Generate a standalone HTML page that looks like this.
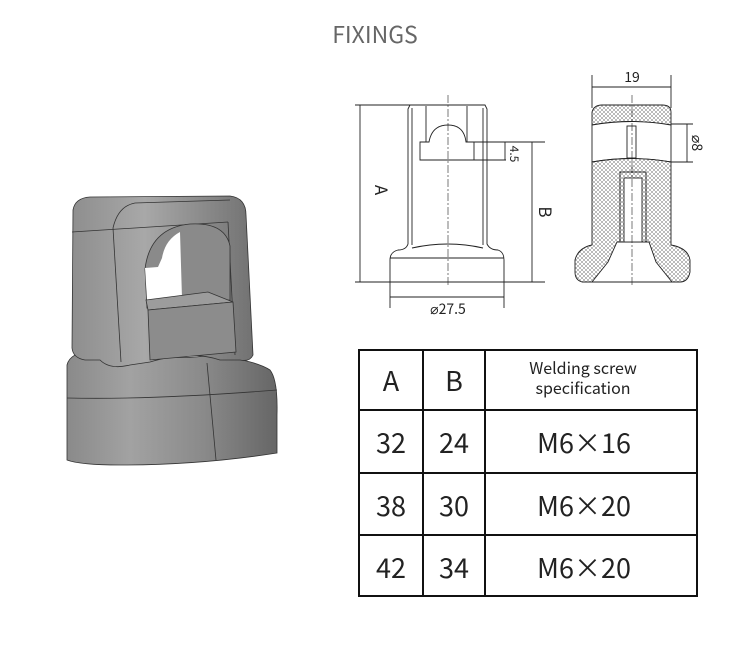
<!DOCTYPE html>
<html><head><meta charset="utf-8"><style>
html,body{margin:0;padding:0;background:#fff}
svg{display:block}
text{font-family:"Noto Sans CJK SC","Liberation Sans",sans-serif}
</style></head><body>
<svg width="750" height="663" viewBox="0 0 750 663" xmlns="http://www.w3.org/2000/svg">
<defs>
<pattern id="h" width="4" height="4" patternUnits="userSpaceOnUse">
<rect width="4" height="4" fill="#fff"/>
<path d="M0 0L4 4M4 0L0 4" stroke="#777" stroke-width="0.5"/>
</pattern>
<linearGradient id="g1" x1="0" x2="1"><stop offset="0" stop-color="#8e8e8e"/><stop offset="0.4" stop-color="#a8a8a8"/><stop offset="1" stop-color="#727272"/></linearGradient>
<linearGradient id="g2" x1="0" x2="1"><stop offset="0" stop-color="#8a8a8a"/><stop offset="0.3" stop-color="#a2a2a2"/><stop offset="0.65" stop-color="#8a8a8a"/><stop offset="1" stop-color="#666"/></linearGradient>
</defs>
<text x="375" y="43" text-anchor="middle" font-size="23" fill="#666">FIXINGS</text>

<!-- 3D object -->
<g stroke="#333" stroke-width="0.8">
<path d="M67 365 Q70 352 95 350 Q120 362 150 355 Q185 360 210 355 Q255 360 270 370 Q278 380 277 415 L277 453 Q200 465 120 465 Q80 465 67 460 Z" fill="url(#g2)"/>
<path d="M67 398 Q150 400 277 390" fill="none"/>
<line x1="207" y1="363" x2="216" y2="460"/>
<path d="M73 210 Q75 198 90 197 L230 196 Q246 198 246 215 L253 355 Q250 362 240 360 L220 360 Q190 350 150 362 L130 365 Q110 370 100 360 L85 360 Q73 358 72 348 Z" fill="url(#g1)"/>
<path d="M113 228 Q118 206 135 203 L230 200" fill="none"/>
<path d="M72 232 L228 222" fill="none"/>
<line x1="113" y1="228" x2="121" y2="362"/>
<line x1="228" y1="222" x2="235" y2="355"/>
<path d="M145 269 Q150 228 190 224 Q225 222 230 246 L230 300 L147 308 Z" fill="#8a8a8a"/>
<path d="M145 268 L158 267 L162 258 Q165 240 180 232 L182 298 L147 300 Z" fill="#fff" stroke="none"/>
<path d="M146 300 L208 292 L233 302 L148 310 Z" fill="#9c9c9c"/>
<path d="M148 310 L233 302 L236 352 L150 360 Z" fill="#8c8c8c"/>
</g>

<!-- Left drawing -->
<g stroke="#222" stroke-width="0.9" fill="none">
<line x1="355" y1="105" x2="412" y2="105"/>
<line x1="355" y1="282" x2="545" y2="282"/>
<line x1="360" y1="105" x2="360" y2="282"/>
<path d="M408 109 L410 105 L485 105 L487 109 L487 244 Q490 250 498 250 Q504 252 504 260 L504 282 L390 282 L390 260 Q390 252 398 250 Q406 250 408 244 Z" fill="#fff"/>
<line x1="412" y1="108" x2="412" y2="245"/>
<line x1="483" y1="108" x2="483" y2="245"/>
<line x1="426" y1="106" x2="426" y2="142"/>
<line x1="467" y1="106" x2="467" y2="142"/>
<line x1="390" y1="258" x2="504" y2="258"/>
<path d="M412 248 Q448 240 483 248"/>
<path d="M420 142 L420 160 L474 160 L474 142 L466 142 Q464 125 448 125 Q432 125 429 142 Z" fill="#fff"/>
<line x1="474" y1="142" x2="545" y2="142"/>
<line x1="474" y1="160" x2="506" y2="160"/>
<line x1="505" y1="142" x2="505" y2="160"/>
<line x1="532" y1="142" x2="532" y2="282"/>
<line x1="448" y1="95" x2="448" y2="285" stroke-dasharray="8,2,2,2" stroke-width="0.6"/>
<line x1="390" y1="282" x2="390" y2="308"/>
<line x1="504" y1="282" x2="504" y2="308"/>
<line x1="390" y1="297" x2="504" y2="297"/>
</g>
<text transform="translate(375,190) rotate(90)" text-anchor="middle" font-size="17" fill="#222">A</text>
<text transform="translate(539,212) rotate(90)" text-anchor="middle" font-size="17" fill="#222">B</text>
<text transform="translate(510,154) rotate(90)" text-anchor="middle" font-size="12" fill="#222">4.5</text>
<text x="448" y="314" text-anchor="middle" font-size="14" fill="#222">⌀27.5</text>

<!-- Right drawing -->
<g stroke="#222" stroke-width="0.9">
<line x1="592" y1="75" x2="592" y2="108" fill="none"/>
<line x1="671" y1="75" x2="671" y2="108" fill="none"/>
<line x1="592" y1="87" x2="671" y2="87"/>
<path d="M592 125 L592 112 Q594 105 602 105 L662 105 Q671 105 671 112 L671 125 Q632 118 592 125 Z" fill="url(#h)"/>
<path d="M592 125 Q632 118 671 125 L671 162 Q632 155 592 162 Z" fill="#fff"/>
<rect x="627" y="126" width="9" height="32" fill="#fff"/>
<path d="M592 162 Q632 155 671 162 L671 245 Q688 248 690 260 L690 272 Q688 282 680 282 L592 282 L582 282 Q575 280 575 272 L575 260 Q578 248 592 245 Z" fill="url(#h)"/>
<path d="M617 242 L649 242 L656 262 Q664 272 672 282 L592 282 Q600 272 608 262 Z" fill="#fff"/>
<rect x="620" y="172" width="26" height="70" fill="url(#h)"/>
<rect x="624" y="178" width="18" height="64" fill="#fff"/>
<line x1="671" y1="124" x2="693" y2="124"/>
<line x1="671" y1="162" x2="693" y2="162"/>
<line x1="687" y1="124" x2="687" y2="162"/>
<line x1="632" y1="95" x2="632" y2="285" stroke-dasharray="8,2,2,2" stroke-width="0.6"/>
</g>
<text x="632" y="82" text-anchor="middle" font-size="14" fill="#222">19</text>
<text transform="translate(692,143) rotate(90)" text-anchor="middle" font-size="14" fill="#222">⌀8</text>

<!-- Table -->
<g stroke="#111" stroke-width="2" fill="none">
<rect x="359" y="350" width="338" height="246"/>
<line x1="423" y1="350" x2="423" y2="596"/>
<line x1="485" y1="350" x2="485" y2="596"/>
<line x1="359" y1="410" x2="697" y2="410"/>
<line x1="359" y1="473" x2="697" y2="473"/>
<line x1="359" y1="535" x2="697" y2="535"/>
</g>
<g font-size="27" fill="#222" text-anchor="middle">
<text x="391" y="391">A</text><text x="454" y="391">B</text>
<text x="391" y="453">32</text><text x="454" y="453">24</text><text x="584" y="453">M6×16</text>
<text x="391" y="516">38</text><text x="454" y="516">30</text><text x="584" y="516">M6×20</text>
<text x="391" y="578">42</text><text x="454" y="578">34</text><text x="584" y="578">M6×20</text>
</g>
<text x="583" y="374" text-anchor="middle" font-size="16" fill="#222">Welding screw</text>
<text x="583" y="394" text-anchor="middle" font-size="16" fill="#222">specification</text>
</svg>
</body></html>
